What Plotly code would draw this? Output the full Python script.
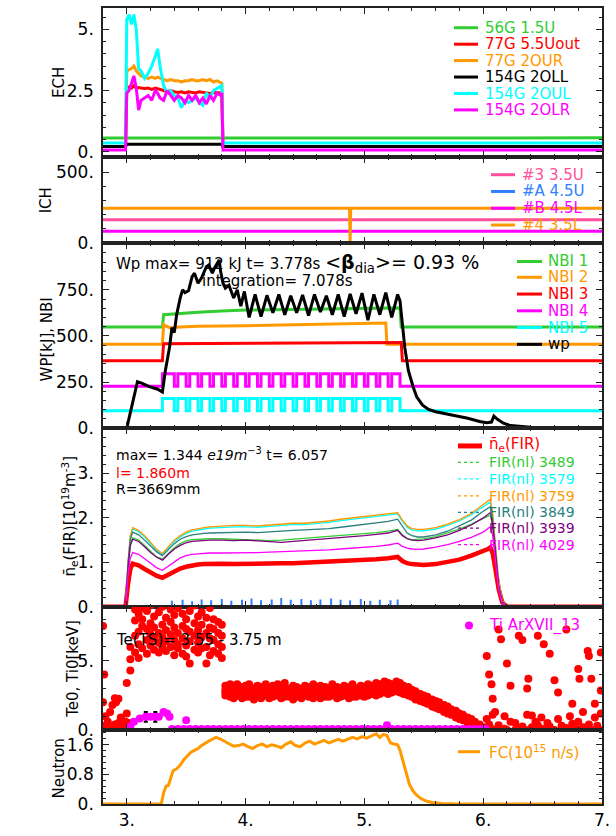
import plotly.graph_objects as go

# ======================= DATA =======================
# --- ECH panel ---
ech_t = [2.80, 2.99, 3.00, 3.02, 3.04, 3.06, 3.08, 3.10, 3.12, 3.15, 3.18, 3.21, 3.24, 3.26, 3.28,
         3.31, 3.34, 3.37, 3.40, 3.43, 3.46, 3.49, 3.52, 3.55, 3.58, 3.61, 3.64, 3.67, 3.70, 3.73,
         3.76, 3.79, 3.80, 3.81, 7.00]
ech_56g_t = [2.80, 7.00]
ech_56g = [0.56, 0.57]
ech_77g_55uout = [0.22, 0.22, 2.6, 2.65, 2.6, 2.7, 2.6, 2.62, 2.6, 2.58, 2.6, 2.55, 2.6, 2.58, 2.55,
                  2.5, 2.45, 2.5, 2.45, 2.42, 2.45, 2.4, 2.45, 2.42, 2.4, 2.45, 2.42, 2.4, 2.38, 2.42,
                  2.4, 2.4, 2.4, 0.22, 0.22]
ech_77g_2our = [0.22, 0.22, 3.3, 3.35, 3.4, 3.5, 3.3, 3.2, 3.1, 3.05, 3.0, 3.05, 3.0, 3.05, 3.0,
                2.95, 2.9, 2.95, 2.9, 2.9, 2.85, 2.9, 2.9, 2.95, 2.9, 2.9, 2.95, 2.9, 2.95, 2.85,
                2.9, 2.8, 2.8, 0.22, 0.22]
ech_154g_2oll_t = [2.80, 2.99, 3.00, 3.80, 3.81, 7.00]
ech_154g_2oll = [0.22, 0.22, 0.31, 0.31, 0.22, 0.22]
ech_154g_2oul = [0.36, 0.36, 5.4, 5.6, 5.2, 5.6, 5.0, 3.4, 3.3, 3.0, 3.2, 3.5, 3.9, 4.2, 3.5,
                 2.7, 2.4, 2.5, 2.3, 2.2, 1.8, 2.1, 2.0, 2.1, 2.2, 2.0, 1.9, 2.4, 2.2, 2.5,
                 2.6, 2.7, 2.7, 0.36, 0.36]
ech_154g_2olr = [0.07, 0.07, 2.4, 2.5, 2.8, 3.1, 2.6, 1.7, 2.1, 2.2, 2.3, 2.1, 2.5, 2.4, 2.2,
                 2.1, 2.5, 2.3, 2.1, 2.3, 2.2, 2.0, 2.3, 2.1, 2.3, 2.0, 2.2, 1.95, 2.3, 2.1,
                 2.4, 2.3, 2.4, 0.07, 0.07]

# --- ICH panel ---
ich_flat_t = [2.80, 7.00]
ich_3_35u = [163, 163]
ich_a_45u = [2, 2]
ich_b_45l = [82, 82]
ich_4_t = [2.80, 4.875, 4.88, 4.885, 7.00]
ich_4_35l = [245, 245, 0, 245, 245]

# --- NBI / Wp panel ---
nbi1_t = [2.80, 3.30, 3.31, 3.40, 3.60, 3.80, 4.00, 4.50, 5.00, 5.30, 5.31, 7.00]
nbi1_v = [548, 548, 615, 620, 628, 635, 640, 645, 650, 652, 548, 548]
nbi2_t = [2.80, 3.30, 3.31, 3.36, 3.45, 3.60, 4.00, 4.50, 5.00, 5.18, 5.19, 7.00]
nbi2_v = [455, 455, 560, 545, 548, 552, 555, 560, 568, 570, 455, 455]
nbi3_t = [2.80, 3.30, 3.31, 4.30, 5.31, 5.32, 7.00]
nbi3_v = [366, 366, 458, 462, 465, 366, 366]
nbi_mod_t = [2.80, 3.30, 3.40, 3.43, 3.50, 3.53, 3.60, 3.63, 3.70, 3.73, 3.80, 3.83, 3.90, 3.93,
             4.00, 4.03, 4.10, 4.13, 4.20, 4.23, 4.30, 4.33, 4.40, 4.43, 4.50, 4.53, 4.60, 4.63,
             4.70, 4.73, 4.80, 4.83, 4.90, 4.93, 5.00, 5.03, 5.10, 5.13, 5.20, 5.23, 5.30, 7.00]
nbi4_v = [227, 295, 227, 295, 227, 295, 227, 295, 227, 295, 227, 295, 227, 295,
          227, 295, 227, 295, 227, 295, 227, 295, 227, 295, 227, 295, 227, 295,
          227, 295, 227, 295, 227, 295, 227, 295, 227, 295, 227, 295, 227, 227]
nbi5_v = [95, 161, 95, 161, 95, 161, 95, 161, 95, 161, 95, 161, 95, 161,
          95, 161, 95, 161, 95, 161, 95, 161, 95, 161, 95, 161, 95, 161,
          95, 161, 95, 161, 95, 161, 95, 161, 95, 161, 95, 161, 95, 95]
wp_t = [2.80, 3.00, 3.09, 3.13, 3.19, 3.26, 3.30, 3.325, 3.36, 3.38, 3.40, 3.42, 3.45, 3.47, 3.49,
        3.52, 3.55, 3.57, 3.60, 3.63, 3.67, 3.69, 3.72, 3.74, 3.778, 3.79, 3.81, 3.83, 3.86, 3.90,
        3.93, 3.96, 3.99, 4.03, 4.08, 4.13, 4.18, 4.23, 4.28, 4.33, 4.38, 4.43, 4.48, 4.53, 4.58,
        4.63, 4.68, 4.73, 4.78, 4.83, 4.88, 4.93, 4.98, 5.03, 5.08, 5.13, 5.18, 5.23, 5.28, 5.30,
        5.34, 5.37, 5.41, 5.44, 5.49, 5.54, 5.60, 5.74, 5.87, 5.97, 6.03, 6.07, 6.09, 6.12, 6.17,
        6.23, 6.40, 6.73, 7.00]
wp_v = [0, 0, 252, 243, 225, 211, 196, 313, 438, 545, 518, 616, 706, 750, 735,
        745, 822, 840, 786, 815, 875, 884, 840, 870, 912, 850, 786, 759, 775, 706,
        750, 661, 741, 600, 725, 605, 720, 625, 725, 615, 718, 625, 722, 610, 725,
        630, 718, 615, 725, 605, 728, 620, 732, 585, 725, 615, 735, 600, 725, 690,
        438, 313, 225, 170, 125, 102, 89, 71, 54, 36, 30, 33, 66, 48, 27,
        14, 5, 1, 0]

# --- density panel ---
ne_t = [2.80, 2.99, 3.01, 3.03, 3.05, 3.10, 3.15, 3.20, 3.25, 3.30, 3.35, 3.40, 3.45, 3.50, 3.55,
        3.60, 3.65, 3.70, 3.80, 3.90, 4.00, 4.10, 4.20, 4.30, 4.40, 4.50, 4.60, 4.70, 4.80, 4.90,
        5.00, 5.10, 5.20, 5.28, 5.32, 5.36, 5.40, 5.45, 5.50, 5.60, 5.70, 5.80, 5.90, 6.00, 6.04,
        6.06, 6.08, 6.10, 6.13, 6.16, 6.20, 7.00]
ne_fir = [0, 0, 0.5, 0.85, 0.97, 0.93, 0.85, 0.76, 0.70, 0.65, 0.72, 0.80, 0.86, 0.90, 0.93,
          0.95, 0.96, 0.97, 0.97, 0.96, 0.97, 0.96, 0.97, 0.98, 0.98, 0.99, 1.00, 1.01, 1.02, 1.04,
          1.05, 1.07, 1.09, 1.12, 1.03, 0.98, 0.96, 0.94, 0.94, 0.96, 1.00, 1.06, 1.15, 1.25, 1.30,
          1.34, 1.20, 0.90, 0.40, 0.10, 0, 0]
fir_3489 = [0, 0, 0.88, 1.42, 1.55, 1.5, 1.38, 1.24, 1.12, 1.07, 1.2, 1.33, 1.42, 1.48, 1.51,
            1.52, 1.53, 1.53, 1.53, 1.52, 1.52, 1.5, 1.49, 1.5, 1.52, 1.54, 1.56, 1.58, 1.6, 1.62,
            1.64, 1.67, 1.7, 1.74, 1.62, 1.54, 1.51, 1.52, 1.53, 1.58, 1.66, 1.75, 1.86, 2.0, 2.04,
            2.06, 1.8, 1.3, 0.45, 0.1, 0, 0]
fir_3579 = [0, 0, 0.98, 1.57, 1.75, 1.69, 1.57, 1.42, 1.27, 1.17, 1.32, 1.47, 1.57, 1.65, 1.70,
            1.73, 1.75, 1.77, 1.79, 1.80, 1.80, 1.79, 1.81, 1.83, 1.85, 1.85, 1.87, 1.90, 1.94, 1.97,
            2.00, 2.03, 2.05, 2.09, 1.92, 1.79, 1.73, 1.71, 1.71, 1.75, 1.83, 1.93, 2.07, 2.26, 2.33,
            2.36, 2.05, 1.45, 0.55, 0.12, 0, 0]
fir_3759 = [0, 0, 1.0, 1.6, 1.78, 1.72, 1.6, 1.45, 1.3, 1.2, 1.35, 1.5, 1.6, 1.68, 1.73,
            1.76, 1.78, 1.8, 1.82, 1.83, 1.83, 1.82, 1.84, 1.86, 1.88, 1.88, 1.9, 1.93, 1.97, 2.0,
            2.03, 2.06, 2.08, 2.12, 1.95, 1.82, 1.76, 1.74, 1.74, 1.78, 1.86, 1.96, 2.1, 2.3, 2.38,
            2.42, 2.1, 1.5, 0.6, 0.15, 0, 0]
fir_3849 = [0, 0, 0.95, 1.52, 1.68, 1.62, 1.5, 1.36, 1.24, 1.15, 1.28, 1.42, 1.52, 1.58, 1.62,
            1.64, 1.65, 1.66, 1.67, 1.68, 1.68, 1.67, 1.69, 1.71, 1.72, 1.73, 1.74, 1.76, 1.79, 1.82,
            1.85, 1.88, 1.92, 1.97, 1.8, 1.66, 1.6, 1.57, 1.57, 1.62, 1.7, 1.82, 1.95, 2.15, 2.22,
            2.25, 1.95, 1.4, 0.5, 0.12, 0, 0]
fir_3939 = [0, 0, 0.85, 1.38, 1.52, 1.47, 1.35, 1.22, 1.12, 1.05, 1.18, 1.3, 1.38, 1.44, 1.47,
            1.48, 1.5, 1.5, 1.5, 1.49, 1.5, 1.48, 1.46, 1.45, 1.47, 1.49, 1.52, 1.53, 1.55, 1.57,
            1.6, 1.63, 1.66, 1.72, 1.6, 1.53, 1.5, 1.49, 1.5, 1.55, 1.62, 1.72, 1.84, 2.0, 2.08,
            2.12, 1.85, 1.3, 0.45, 0.1, 0, 0]
fir_4029 = [0, 0, 0.7, 1.1, 1.22, 1.18, 1.08, 0.97, 0.88, 0.82, 0.92, 1.02, 1.1, 1.15, 1.18,
            1.19, 1.2, 1.21, 1.21, 1.21, 1.22, 1.22, 1.23, 1.24, 1.25, 1.25, 1.26, 1.28, 1.3, 1.32,
            1.33, 1.36, 1.39, 1.43, 1.36, 1.32, 1.3, 1.29, 1.3, 1.34, 1.4, 1.47, 1.56, 1.68, 1.76,
            1.8, 1.6, 1.1, 0.4, 0.08, 0, 0]
ne_blue_t = [3.38, 3.47, 3.55, 3.63, 3.71, 3.80, 3.88, 3.97, 4.05, 4.13, 4.22, 4.30,
             4.38, 4.47, 4.55, 4.63, 4.72, 4.80, 4.88, 4.97, 5.05, 5.13, 5.22, 5.28]
ne_blue_v = [0.04, 0.06, 0.03, 0.07, 0.05, 0.08, 0.04, 0.06, 0.09, 0.05, 0.07, 0.10,
             0.06, 0.08, 0.05, 0.07, 0.09, 0.06, 0.05, 0.08, 0.04, 0.06, 0.05, 0.07]

# --- Te (Thomson) rows: [time, value, value, ...] ---
te_rows = [
    [2.80, 7.5, 2.0, 0.0], [2.81, 4.0, 0.3], [2.82, 1.0, 0.1], [2.84, 0.0, 0.6], [2.86, 0.1, 1.3],
    [2.88, 1.8, 0.0], [2.90, 2.3, 0.4], [2.91, 2.0, 0.0], [2.93, 0.5, 2.25], [2.95, 0.9, 0.0],
    [2.97, 0.2, 0.0], [2.99, 0.6, 0.1],
    [3.00, 0.3, 1.2, 3.4], [3.03, 4.3, 5.1, 6.0, 0.5], [3.07, 5.6, 6.8, 7.9, 8.7],
    [3.10, 6.2, 7.1, 8.4, 9.1, 5.2], [3.13, 5.9, 7.5, 8.0, 8.8], [3.17, 6.5, 7.3, 8.6, 5.5],
    [3.20, 6.1, 6.9, 7.7, 9.0], [3.23, 5.8, 7.4, 8.2, 6.6], [3.27, 6.3, 7.0, 8.5, 5.6],
    [3.30, 6.7, 7.6, 8.9, 6.0], [3.33, 5.7, 7.2, 8.1, 6.4], [3.37, 6.0, 6.9, 7.8, 8.7],
    [3.40, 5.4, 6.5, 7.4, 8.3], [3.43, 6.2, 7.0, 8.8, 5.9], [3.47, 5.5, 6.6, 7.5, 8.4],
    [3.50, 6.1, 7.3, 8.0, 5.3], [3.53, 4.8, 6.4, 7.1, 8.6], [3.57, 5.8, 6.8, 7.7, 9.0],
    [3.60, 6.3, 7.2, 8.2, 5.6], [3.63, 5.9, 6.7, 7.6, 8.5], [3.67, 6.0, 7.0, 8.1, 4.8],
    [3.70, 5.4, 6.6, 7.4, 8.8], [3.73, 5.7, 6.5, 7.3, 8.0], [3.77, 5.5, 6.2, 7.0, 7.8],
    [3.80, 5.2, 6.0, 6.8, 7.6],
    [3.83, 2.5, 2.9, 3.2, 2.7], [3.87, 2.4, 2.8, 3.1, 3.3], [3.90, 2.6, 2.9, 3.2, 2.3],
    [3.93, 2.5, 2.8, 3.0, 3.3], [3.97, 2.3, 2.7, 3.1, 2.9], [4.00, 2.6, 2.8, 3.2, 2.4],
    [4.03, 2.4, 2.9, 3.3, 2.7], [4.07, 2.5, 2.8, 3.0, 2.2], [4.10, 2.7, 2.9, 3.2, 2.4],
    [4.13, 2.3, 2.8, 3.1, 2.6], [4.17, 2.5, 2.9, 3.3, 2.7], [4.20, 2.6, 2.8, 3.0, 2.3],
    [4.23, 2.4, 2.7, 3.2, 2.9], [4.27, 2.5, 3.0, 3.3, 2.7], [4.30, 2.3, 2.8, 3.1, 2.6],
    [4.33, 2.6, 2.9, 3.4, 2.4], [4.37, 2.4, 2.7, 3.0, 2.8], [4.40, 2.5, 2.9, 3.2, 2.2],
    [4.43, 2.7, 2.8, 3.1, 2.4], [4.47, 2.3, 2.6, 3.0, 2.9], [4.50, 2.5, 2.8, 3.2, 2.7],
    [4.53, 2.4, 2.9, 3.1, 2.6], [4.57, 2.6, 2.8, 3.3, 2.3], [4.60, 2.5, 2.7, 3.0, 2.9],
    [4.63, 2.3, 2.8, 3.2, 2.6], [4.67, 2.6, 2.9, 3.1, 2.4], [4.70, 2.4, 2.7, 3.0, 2.8],
    [4.73, 2.5, 2.9, 3.3, 2.6], [4.77, 2.7, 2.8, 3.1, 2.3], [4.80, 2.4, 2.6, 3.0, 2.9],
    [4.83, 2.5, 2.8, 3.2, 2.7], [4.87, 2.3, 2.9, 3.1, 2.6], [4.90, 2.6, 2.8, 3.3, 2.4],
    [4.93, 2.4, 2.7, 3.0, 2.9], [4.97, 2.5, 2.9, 3.2, 2.7], [5.00, 2.6, 2.8, 3.1, 2.4],
    [5.03, 2.5, 2.9, 3.3, 2.7], [5.07, 2.6, 3.0, 3.2, 2.8], [5.10, 2.7, 2.9, 3.4, 2.5],
    [5.13, 2.8, 3.1, 3.3, 2.6], [5.17, 2.7, 3.0, 3.5, 2.9], [5.20, 2.8, 3.2, 3.4, 2.6],
    [5.23, 2.7, 3.0, 3.3], [5.27, 2.8, 3.1, 3.5], [5.30, 2.7, 3.0, 3.4], [5.33, 2.6, 2.9, 3.2],
    [5.37, 2.5, 2.8, 3.1], [5.40, 2.4, 2.7, 2.9], [5.43, 2.2, 2.5, 2.8], [5.47, 2.1, 2.4, 2.6],
    [5.50, 2.0, 2.2, 2.5], [5.53, 1.9, 2.1, 2.4], [5.57, 1.7, 2.0, 2.2], [5.60, 1.6, 1.9, 2.1],
    [5.63, 1.5, 1.7, 2.0], [5.67, 1.3, 1.6, 1.8], [5.70, 1.2, 1.4, 1.7], [5.73, 1.1, 1.3, 1.5],
    [5.77, 0.9, 1.2, 1.4], [5.80, 0.8, 1.0, 1.2], [5.83, 0.7, 0.9, 1.1], [5.87, 0.5, 0.7, 0.9],
    [5.90, 0.4, 0.6, 0.8], [5.93, 0.3, 0.4, 0.6], [5.97, 0.1, 0.3, 0.4], [6.00, 0.0, 0.1, 0.2],
    [6.03, 5.35, 0.8], [6.05, 4.0, 0.4], [6.07, 3.3, 0.1], [6.08, 2.25, 1.1], [6.10, 1.3, 0.0],
    [6.13, 7.25, 0.35], [6.15, 6.55, 0.0], [6.18, 1.0, 0.1], [6.20, 4.8, 0.0], [6.23, 3.2, 0.6],
    [6.27, 0.5, 0.0], [6.30, 6.8, 0.1], [6.33, 6.5, 0.25], [6.37, 3.0, 1.1], [6.38, 3.7, 0.0],
    [6.41, 1.05, 0.2], [6.44, 0.6, 0.0], [6.46, 6.8, 0.35], [6.49, 0.1, 0.9], [6.51, 6.2, 0.0],
    [6.54, 0.5, 0.1], [6.56, 5.5, 0.25], [6.60, 3.6, 0.0], [6.63, 2.7, 0.8], [6.66, 0.3, 0.0],
    [6.70, 7.25, 0.15], [6.73, 1.0, 0.0], [6.75, 1.9, 0.45], [6.78, 0.1, 0.0], [6.80, 4.4, 0.6],
    [6.81, 3.7, 0.0], [6.84, 1.3, 0.2], [6.88, 5.7, 0.0], [6.89, 5.35, 0.4], [6.91, 3.7, 0.0],
    [6.94, 1.9, 0.9], [6.96, 0.3, 0.0], [6.99, 5.6, 2.85, 1.2, 0.0],
]
# --- Ti (ArXVII) ---
ti_t = [3.03, 3.06, 3.11, 3.16, 3.20, 3.24, 3.27, 3.31, 3.34, 3.36, 3.50, 5.19]
ti_v = [0.24, 0.6, 0.83, 0.95, 0.95, 0.95, 0.95, 1.3, 1.2, 0.95, 0.7, 0.35]
ti_err = [0, 0, 0, 0.35, 0, 0.35, 0, 0, 0, 0, 0, 0]
ti_base_t = [3.38, 3.43, 3.48, 3.53, 3.58, 3.63, 3.68, 3.73, 3.78, 3.83, 3.88, 3.93, 3.98, 4.03,
             4.08, 4.13, 4.18, 4.23, 4.28, 4.33, 4.38, 4.43, 4.48, 4.53, 4.58, 4.63, 4.68, 4.73,
             4.78, 4.83, 4.88, 4.93, 4.98, 5.03, 5.08, 5.13, 5.18, 5.23, 5.28, 5.33, 5.38, 5.43,
             5.48, 5.53, 5.58, 5.63, 5.68, 5.73, 5.78, 5.83, 5.88, 5.93, 5.98, 6.02]
ti_base_v = [0.08, 0.08, 0.08, 0.08, 0.08, 0.08, 0.08, 0.08, 0.08, 0.08, 0.08, 0.08, 0.08, 0.08,
             0.08, 0.08, 0.08, 0.08, 0.08, 0.08, 0.08, 0.08, 0.08, 0.08, 0.08, 0.08, 0.08, 0.08,
             0.08, 0.08, 0.08, 0.08, 0.08, 0.08, 0.08, 0.08, 0.08, 0.08, 0.08, 0.08, 0.08, 0.08,
             0.08, 0.08, 0.08, 0.08, 0.08, 0.08, 0.08, 0.08, 0.08, 0.08, 0.08, 0.08]

# --- Neutron ---
fc_t = [2.80, 3.29, 3.31, 3.33, 3.35, 3.37, 3.39, 3.42, 3.45, 3.48, 3.51, 3.54, 3.57, 3.60, 3.63,
        3.66, 3.69, 3.72, 3.75, 3.78, 3.81, 3.84, 3.87, 3.90, 3.94, 3.98, 4.02, 4.06, 4.10, 4.14,
        4.18, 4.22, 4.26, 4.30, 4.34, 4.38, 4.42, 4.46, 4.50, 4.54, 4.58, 4.62, 4.66, 4.70, 4.74,
        4.78, 4.82, 4.86, 4.90, 4.94, 4.98, 5.02, 5.06, 5.10, 5.13, 5.16, 5.19, 5.22, 5.25, 5.28,
        5.30, 5.32, 5.34, 5.36, 5.38, 5.41, 5.44, 5.48, 5.52, 5.57, 5.65, 5.75, 7.00]
fc_v = [0, 0, 0.3, 0.48, 0.5, 0.7, 0.9, 0.95, 1.05, 1.2, 1.3, 1.4, 1.45, 1.5, 1.58,
        1.65, 1.7, 1.75, 1.8, 1.77, 1.72, 1.65, 1.6, 1.56, 1.58, 1.62, 1.55, 1.5, 1.58, 1.62,
        1.55, 1.6, 1.57, 1.52, 1.62, 1.68, 1.58, 1.55, 1.65, 1.7, 1.62, 1.68, 1.72, 1.65, 1.7,
        1.75, 1.7, 1.74, 1.8, 1.76, 1.82, 1.78, 1.85, 1.9, 1.8, 1.88, 1.85, 1.65, 1.62, 1.6,
        1.45, 1.2, 0.95, 0.72, 0.52, 0.35, 0.24, 0.14, 0.08, 0.04, 0.015, 0.005, 0]

# --- axis ticks ---
x_tickvals = [3, 4, 5, 6, 7]
x_ticktext = ['3.', '4.', '5.', '6.', '7.']
y_tickvals = [[0, 2.5, 5], [0, 500], [0, 250, 500, 750], [0, 1, 2, 3], [0, 5], [0, 0.8, 1.6]]
y_ticktext = [['0.', '2.5', '5.'], ['0.', '500.'], ['0.', '250.', '500.', '750.'],
              ['0.', '1.', '2.', '3.'], ['0.', '5.'], ['0.', '0.8', '1.6']]

# ======================= STYLE / LAYOUT =======================
W, H = 616, 836
PL, PR, PT, PB = 103, 602, 6, 813
FONT = 'DejaVu Sans'
GREEN, RED, ORANGE, BLACK = '#33cc33', '#ff0000', '#ff9900', '#000000'
CYAN, MAGENTA, PINK, BLUE = '#00ffff', '#ff00ff', '#ff4f9a', '#2f7fff'
TEAL, PURPLE = '#2a8080', '#800080'


def fx(px):
    return (px - PL) / (PR - PL)


def fy(py):
    return (PB - py) / (PB - PT)


bounds = [6, 157, 244, 432, 613, 738, 813]
y_ranges = [[-0.21, 5.87], [0, 610], [0, 1005], [0, 4.02], [0, 8.9], [0, 2.0]]
y_minor = [0.5, 100, 50, 0.2, 1, 0.16]

fig = go.Figure()
AX = ['', '2', '3', '4', '5', '6']


def add_line(t, v, color, width, panel, shape='linear'):
    fig.add_trace(go.Scatter(x=t, y=v, mode='lines',
                             line=dict(color=color, width=width, shape=shape),
                             xaxis='x' + AX[panel], yaxis='y' + AX[panel],
                             showlegend=False, hoverinfo='skip'))


# Panel 1: ECH
add_line(ech_56g_t, ech_56g, GREEN, 3, 0)
add_line(ech_t, ech_77g_55uout, RED, 3, 0)
add_line(ech_t, ech_77g_2our, ORANGE, 3, 0)
add_line(ech_154g_2oll_t, ech_154g_2oll, BLACK, 3, 0)
add_line(ech_t, ech_154g_2oul, CYAN, 3, 0)
add_line(ech_t, ech_154g_2olr, MAGENTA, 3, 0)

# Panel 2: ICH
add_line(ich_flat_t, ich_3_35u, PINK, 3, 1)
add_line(ich_flat_t, ich_a_45u, BLUE, 3, 1)
add_line(ich_flat_t, ich_b_45l, MAGENTA, 3, 1)
add_line(ich_4_t, ich_4_35l, ORANGE, 3, 1)

# Panel 3: NBI + Wp
add_line(nbi1_t, nbi1_v, GREEN, 3, 2)
add_line(nbi2_t, nbi2_v, ORANGE, 3, 2)
add_line(nbi3_t, nbi3_v, RED, 3, 2)
add_line(nbi_mod_t, nbi4_v, MAGENTA, 3, 2, shape='hv')
add_line(nbi_mod_t, nbi5_v, CYAN, 3, 2, shape='hv')
add_line(wp_t, wp_v, BLACK, 3, 2)

# Panel 4: density
add_line(ne_t, ne_fir, RED, 4.5, 3)
add_line(ne_t, fir_3489, GREEN, 1.3, 3)
add_line(ne_t, fir_3579, CYAN, 1.3, 3)
add_line(ne_t, fir_3759, ORANGE, 1.3, 3)
add_line(ne_t, fir_3849, TEAL, 1.3, 3)
add_line(ne_t, fir_3939, PURPLE, 1.3, 3)
add_line(ne_t, fir_4029, MAGENTA, 1.3, 3)
fig.add_trace(go.Scatter(x=ne_blue_t, y=ne_blue_v, mode='markers',
                         marker=dict(symbol='line-ns', size=6, line=dict(color=BLUE, width=2)),
                         xaxis='x4', yaxis='y4', showlegend=False, hoverinfo='skip'))

# Panel 5: Te / Ti
te_x, te_y = [], []
for row in te_rows:
    for val in row[1:]:
        te_x.append(row[0])
        te_y.append(val)
fig.add_trace(go.Scatter(x=te_x, y=te_y, mode='markers',
                         marker=dict(color=RED, size=8, line=dict(width=0)),
                         xaxis='x5', yaxis='y5', showlegend=False, hoverinfo='skip'))
fig.add_trace(go.Scatter(x=ti_base_t, y=ti_base_v, mode='markers',
                         marker=dict(color=MAGENTA, size=8, line=dict(width=0)),
                         xaxis='x5', yaxis='y5', showlegend=False, hoverinfo='skip'))
fig.add_trace(go.Scatter(x=ti_t, y=ti_v, mode='markers',
                         marker=dict(color=MAGENTA, size=8, line=dict(width=0)),
                         error_y=dict(type='data', array=ti_err, color=BLACK, thickness=2, width=2),
                         xaxis='x5', yaxis='y5', showlegend=False, hoverinfo='skip'))

# Panel 6: Neutron
add_line(fc_t, fc_v, ORANGE, 3, 5)

# ---- axes ----
layout = dict(width=W, height=H, paper_bgcolor='white', plot_bgcolor='white',
              margin=dict(l=PL, r=W - PR, t=PT, b=H - PB), showlegend=False,
              font=dict(family=FONT, size=15, color='black'))
for i in range(6):
    k = AX[i]
    dom = [fy(bounds[i + 1]), fy(bounds[i])]
    xa = dict(domain=[0, 1], anchor='y' + k, range=[2.8, 7.0], showgrid=False, zeroline=False,
              showline=True, linecolor='#222222', linewidth=1.5, mirror='ticks',
              ticks='inside', ticklen=6, tickwidth=1, tickcolor='#222222',
              tickmode='array', tickvals=x_tickvals, ticktext=x_ticktext,
              minor=dict(ticks='inside', dtick=0.2, tick0=2.8, ticklen=3, tickcolor='#222222',
                         showgrid=False),
              showticklabels=(i == 5), tickfont=dict(size=17, family=FONT))
    if i > 0:
        xa['matches'] = 'x'
    ya = dict(domain=dom, anchor='x' + k, range=y_ranges[i], showgrid=False, zeroline=False,
              showline=True, linecolor='#222222', linewidth=1.5, mirror='ticks',
              ticks='inside', ticklen=6, tickwidth=1, tickcolor='#222222',
              tickmode='array', tickvals=y_tickvals[i], ticktext=y_ticktext[i],
              minor=dict(ticks='inside', dtick=y_minor[i], tick0=0, ticklen=3,
                         tickcolor='#222222', showgrid=False),
              tickfont=dict(size=17, family=FONT), ticklabelstandoff=4)
    layout['xaxis' + k] = xa
    layout['yaxis' + k] = ya
fig.update_layout(**layout)

annotations = []
shapes = []


def text(px, py, s, color='black', size=15, anchor='left', angle=0):
    annotations.append(dict(x=fx(px), y=fy(py), xref='paper', yref='paper', text=s,
                            showarrow=False, xanchor=anchor, yanchor='middle', textangle=angle,
                            font=dict(family=FONT, size=size, color=color)))


def legend_line(x0, x1, py, color, width=3, dash='solid'):
    shapes.append(dict(type='line', xref='paper', yref='paper', x0=fx(x0), x1=fx(x1),
                       y0=fy(py), y1=fy(py), line=dict(color=color, width=width, dash=dash),
                       layer='above'))


# y-axis titles
text(48, 82, 'ECH', angle=-90)
text(35, 201, 'ICH', angle=-90)
text(36, 342, 'WP[kJ], NBI', angle=-90)
text(57, 522, 'n̄<sub>e</sub>(FIR)[10<sup>19</sup>m<sup>-3</sup>]', angle=-90)
text(62, 676, 'Te0, Ti0[keV]', angle=-90)
text(48, 777, 'Neutron', angle=-90)

# legend panel 1
for py, c, s in zip([26, 42.7, 59.3, 76, 92.7, 109.3],
                    [GREEN, RED, ORANGE, BLACK, CYAN, MAGENTA],
                    ['56G 1.5U', '77G 5.5Uout', '77G 2OUR', '154G 2OLL', '154G 2OUL', '154G 2OLR']):
    legend_line(454, 478, py, c)
    text(483, py, s, color=c)
# legend panel 2
for py, c, s in zip([175, 192, 209, 226], [PINK, BLUE, MAGENTA, ORANGE],
                    ['#3 3.5U', '#A 4.5U', '#B 4.5L', '#4 3.5L']):
    legend_line(491, 515, py, c)
    text(520, py, s, color=c)
# legend panel 3
for py, c, s in zip([263, 279, 296, 313, 330, 347], [GREEN, ORANGE, RED, MAGENTA, CYAN, BLACK],
                    ['NBI 1', 'NBI 2', 'NBI 3', 'NBI 4', 'NBI 5', 'wp']):
    legend_line(517, 542, py, c)
    text(546, py, s, color=c)
# legend panel 4
legend_line(458, 482, 450, RED, width=5)
text(487, 449, 'n̄<sub>e</sub>(FIR)', color=RED)
for py, c, s in zip([466.7, 483.3, 500.7, 517.3, 533.3, 550],
                    [GREEN, CYAN, ORANGE, TEAL, PURPLE, MAGENTA],
                    ['FIR(nl) 3489', 'FIR(nl) 3579', 'FIR(nl) 3759', 'FIR(nl) 3849',
                     'FIR(nl) 3939', 'FIR(nl) 4029']):
    legend_line(458, 482, py, c, width=1.2, dash='dot')
    text(487, py, s, color=c, size=14)
# legend panel 5
shapes.append(dict(type='circle', xref='paper', yref='paper', x0=fx(465), x1=fx(473),
                   y0=fy(636), y1=fy(628), fillcolor=MAGENTA, line=dict(width=0), layer='above'))
text(487, 632, 'Ti ArXVII_13', color=MAGENTA)
# legend panel 6
legend_line(458, 480, 760, ORANGE)
text(487, 760, 'FC(10<sup>15</sup> n/s)', color=ORANGE)

# in-panel texts
text(114, 265, 'Wp max= 912 kJ t= 3.778s <span style="font-size:19px">&lt;<b>β</b>'
               '<sub>dia</sub>&gt;= 0.93 %</span>')
text(200, 283, 'integration= 7.078s')
text(114, 458, 'max= 1.344 <i>e19m</i><sup>−3</sup> t= 6.057', size=14)
text(114, 477, 'l= 1.860m', color=RED, size=14)
text(114, 494, 'R=3669mm', size=14)
text(114, 647, 'Te(TS)= 3.55 - 3.75 m')

fig.update_layout(annotations=annotations, shapes=shapes)
fig.write_html('out.html', config={'displayModeBar': False},
               post_script="document.body.style.margin='0';document.body.style.padding='0';")
